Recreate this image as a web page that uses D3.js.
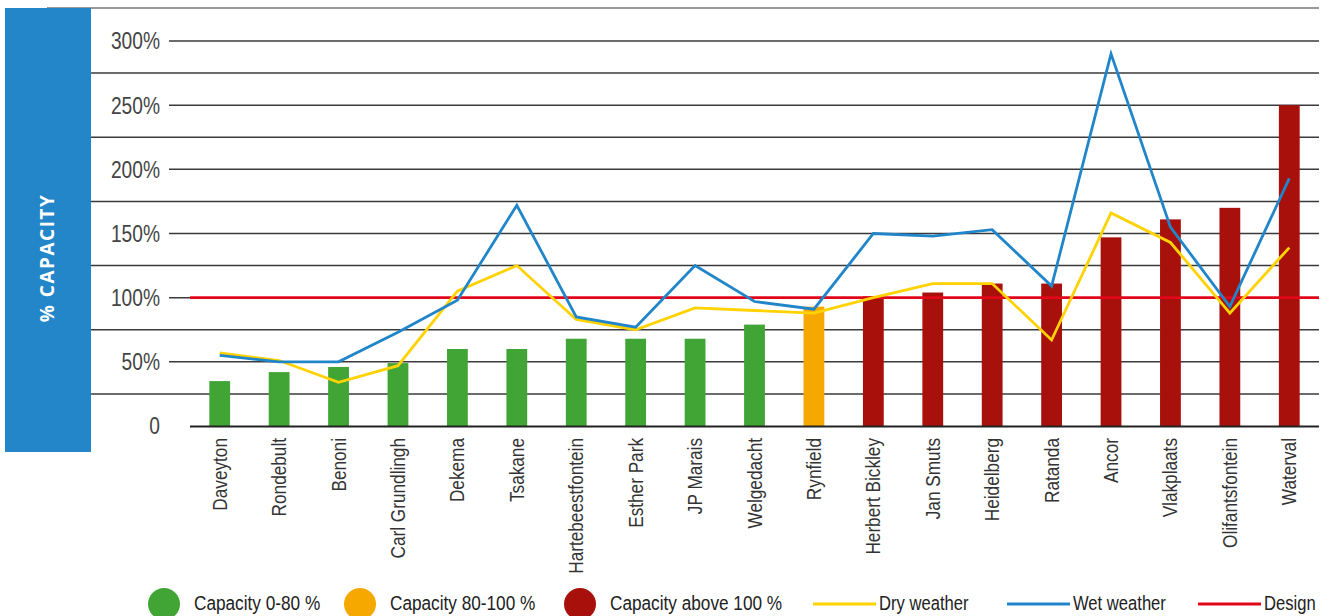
<!DOCTYPE html>
<html>
<head>
<meta charset="utf-8">
<script src="https://cdn.jsdelivr.net/npm/d3@7"></script>
<style>
  html, body { margin: 0; padding: 0; background: #fff; }
  svg { display: block; }
  .narrow { font-family: "Liberation Sans Narrow", "Liberation Sans", Arial, sans-serif; }
</style>
</head>
<body>
<svg id="chart" width="1330" height="616"></svg>
<script>
// Treatment works, ordered by current utilisation
const plants = ["Daveyton", "Rondebult", "Benoni", "Carl Grundlingh", "Dekema", "Tsakane",
  "Hartebeestfontein", "Esther Park", "JP Marais", "Welgedacht", "Rynfield", "Herbert Bickley",
  "Jan Smuts", "Heidelberg", "Ratanda", "Ancor", "Vlakplaats", "Olifantsfontein", "Waterval"];

// Current load as % of design capacity (bars)
const capacity = [35, 42, 46, 49, 60, 60, 68, 68, 68, 79, 93, 101, 104, 111, 111, 147, 161, 170, 250];

// Dry and wet weather flows as % of design capacity
const dryWeather = [57, 51, 34, 47, 105, 125, 83, 75, 92, 90, 88, 100, 111, 111, 67, 166, 143, 88, 139];
const wetWeather = [55, 50, 50, 73, 98, 172, 85, 77, 125, 97, 91, 150, 148, 153, 109, 290, 155, 93, 193];

// Design capacity reference level
const design = 100;

const yTicks = [0, 50, 100, 150, 200, 250, 300];
const yTickLabels = ["0", "50%", "100%", "150%", "200%", "250%", "300%"];
const minorTicks = [25, 75, 125, 175, 225, 275];

const legendBands = ["Capacity 0-80 %", "Capacity 80-100 %", "Capacity above 100 %"];
const legendLines = ["Dry weather", "Wet weather", "Design"];

const colors = {
  green: "#40a535",
  orange: "#f6a800",
  red: "#a8100c",
  dry: "#ffd200",
  wet: "#2186c9",
  design: "#e2061a",
  panel: "#2286c8"
};

const bandColor = v => v <= 80 ? colors.green : (v <= 100 ? colors.orange : colors.red);

// squeeze text horizontally to a condensed face
function condense(sel, factor) {
  sel.each(function () {
    const w = this.getComputedTextLength();
    d3.select(this).attr("textLength", w * factor).attr("lengthAdjust", "spacingAndGlyphs");
  });
}

const svg = d3.select("#chart");

const plotLeft = 190, plotRight = 1319, plotTop = 41, plotBottom = 426;

const x = d3.scaleBand().domain(plants).range([plotLeft, plotRight])
  .paddingInner(0.65).paddingOuter(0.325);
const y = d3.scaleLinear().domain([0, 300]).range([plotBottom, plotTop]);

// top rule
svg.append("line").attr("x1", 47).attr("x2", plotRight).attr("y1", 8).attr("y2", 8)
  .attr("stroke", "#777").attr("stroke-width", 1.5);

// vertical title panel
svg.append("rect").attr("x", 5).attr("y", 8).attr("width", 86).attr("height", 444)
  .attr("fill", colors.panel);
svg.append("text")
  .attr("transform", "translate(47,258) rotate(-90)")
  .attr("text-anchor", "middle").attr("dy", "0.35em")
  .attr("fill", "#fff")
  .style("font-family", "'Open Sans', 'DejaVu Sans', sans-serif")
  .style("font-weight", 700).style("font-size", "19px").style("letter-spacing", "1.5px")
  .text("% CAPACITY");

// minor gridlines run out to the panel edge
svg.append("g").selectAll("line").data(minorTicks).join("line")
  .attr("x1", 91).attr("x2", plotRight)
  .attr("y1", d => y(d)).attr("y2", d => y(d))
  .attr("stroke", "#3a3a3a").attr("stroke-width", 1.5);

// labelled gridlines
svg.append("g").selectAll("line").data(yTicks.filter(d => d > 0)).join("line")
  .attr("x1", 169).attr("x2", plotRight)
  .attr("y1", d => y(d)).attr("y2", d => y(d))
  .attr("stroke", "#3a3a3a").attr("stroke-width", 1.5);

// y tick labels
svg.append("g").selectAll("text").data(yTicks).join("text")
  .attr("class", "narrow")
  .attr("x", 160).attr("y", d => y(d)).attr("dy", "0.35em")
  .attr("text-anchor", "end").attr("fill", "#444")
  .style("font-size", "24px")
  .text((d, i) => yTickLabels[i])
  .call(condense, 0.8);

// bars
svg.append("g").selectAll("rect").data(capacity).join("rect")
  .attr("x", (d, i) => x(plants[i]))
  .attr("width", x.bandwidth())
  .attr("y", d => y(d))
  .attr("height", d => y(0) - y(d))
  .attr("fill", d => bandColor(d));

// baseline
svg.append("line").attr("x1", plotLeft).attr("x2", plotRight)
  .attr("y1", y(0) + 0.5).attr("y2", y(0) + 0.5)
  .attr("stroke", "#222").attr("stroke-width", 2);

// design capacity line
svg.append("line").attr("x1", plotLeft).attr("x2", plotRight)
  .attr("y1", y(design)).attr("y2", y(design))
  .attr("stroke", colors.design).attr("stroke-width", 2.6);

const cx = p => x(p) + x.bandwidth() / 2;
const line = d3.line().x((d, i) => cx(plants[i])).y(d => y(d));

svg.append("path").datum(dryWeather).attr("d", line)
  .attr("fill", "none").attr("stroke", colors.dry).attr("stroke-width", 2.8);
svg.append("path").datum(wetWeather).attr("d", line)
  .attr("fill", "none").attr("stroke", colors.wet).attr("stroke-width", 2.8);

// category labels
svg.append("g").selectAll("text").data(plants).join("text")
  .attr("class", "narrow")
  .attr("transform", d => `translate(${cx(d)},438) rotate(-90)`)
  .attr("text-anchor", "end").attr("dy", "0.35em")
  .attr("fill", "#333")
  .style("font-size", "20px")
  .text(d => d)
  .call(condense, 0.86);

// legend
const legend = svg.append("g").attr("class", "narrow").style("font-size", "20px").attr("fill", "#222");
const bandSwatches = [colors.green, colors.orange, colors.red];
const bandX = [164, 360, 580];
legendBands.forEach((t, i) => {
  legend.append("circle").attr("cx", bandX[i]).attr("cy", 604).attr("r", 16).attr("fill", bandSwatches[i]);
  legend.append("text").attr("x", bandX[i] + 30).attr("y", 610).text(t).call(condense, 0.86);
});
const lineSwatches = [colors.dry, colors.wet, colors.design];
const lineX = [813, 1007, 1198];
legendLines.forEach((t, i) => {
  legend.append("line").attr("x1", lineX[i]).attr("x2", lineX[i] + 63)
    .attr("y1", 604).attr("y2", 604)
    .attr("stroke", lineSwatches[i]).attr("stroke-width", 3);
  legend.append("text").attr("x", lineX[i] + 66).attr("y", 610).text(t).call(condense, 0.83);
});
</script>
</body>
</html>
